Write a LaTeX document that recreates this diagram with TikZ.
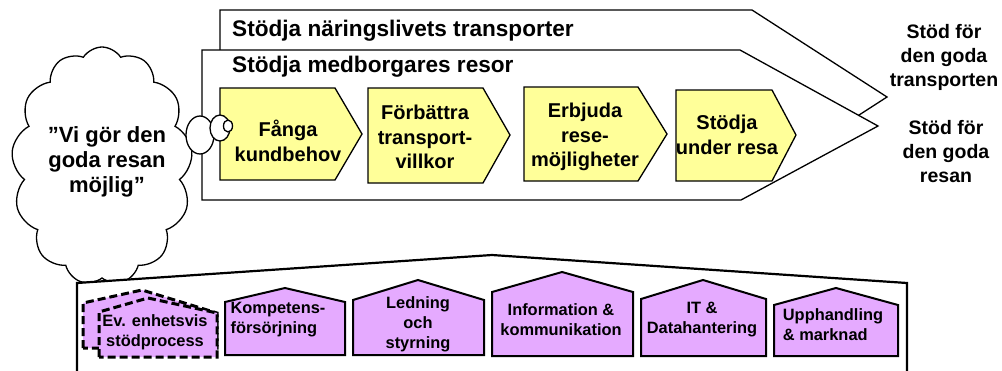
\documentclass[tikz,border=0pt]{standalone}
\usepackage{fontspec}
\setmainfont{Liberation Sans}
\usetikzlibrary{shapes.symbols}
\definecolor{ylw}{RGB}{255,255,153}
\definecolor{vio}{RGB}{229,170,255}
\tikzset{
  chev/.style={draw=black, fill=white, line width=1.3pt, line join=miter},
  ybox/.style={draw=black, fill=ylw, line width=1.3pt},
  pbox/.style={draw=black, fill=vio, line width=2pt},
  dbox/.style={draw=black, fill=vio, line width=3pt, dash pattern=on 8pt off 4pt},
  ytxt/.style={font=\bfseries\fontsize{20}{24.5}\selectfont, align=center, inner sep=0pt},
  ptxt/.style={font=\bfseries\fontsize{16.4}{20}\selectfont, align=center, inner sep=0pt},
  ttl/.style={font=\bfseries\fontsize{22.6}{26}\selectfont, inner sep=0pt, anchor=base west},
  bub/.style={draw=black, fill=white, line width=1.3pt}
}
\begin{document}
\begin{tikzpicture}[x=1pt,y=-1pt]
\useasboundingbox (0,0) rectangle (1002,370);
% cloud
\node[cloud, cloud puffs=13, cloud puff arc=115, cloud ignores aspect, minimum width=181pt, minimum height=238pt, draw=black, fill=white, line width=1.3pt] (cloud) at (102,166) {};
\node[font=\bfseries\fontsize{22}{25}\selectfont, align=center, inner sep=0pt] (cloudtxt) at (107,162) {”Vi gör den\\goda resan\\möjlig”};
% chevrons
\draw[chev] (220,10) -- (752,10) -- (887,97) -- (752,184) -- (220,184) -- cycle;
\draw[chev] (202,50) -- (740,50) -- (878,126) -- (741,200) -- (202,200) -- cycle;
\node[ttl] (t1) at (232,36) {Stödja näringslivets transporter};
\node[ttl] (t2) at (232,72) {Stödja medborgares resor};
% yellow process boxes
\draw[ybox] (220,88) -- (335,88) -- (362,134) -- (335,180) -- (220,180) -- cycle;
\draw[ybox] (368,88) -- (483,88) -- (510,135) -- (483,183) -- (368,183) -- cycle;
\draw[ybox] (524,87) -- (638,87) -- (667,134) -- (638,181) -- (524,181) -- cycle;
\draw[ybox] (676,90) -- (772,90) -- (796,135) -- (772,181) -- (676,181) -- cycle;
\node[ytxt] (y1) at (288,141) {Fånga\\kundbehov};
\node[ytxt] (y2) at (425,137) {Förbättra\\transport-\\villkor};
\node[ytxt] (y3) at (585,137) {Erbjuda\\rese-\\möjligheter};
\node[ytxt] (y4) at (727,135) {Stödja\\under resa};
% thought bubbles
\draw[bub] (200,135) ellipse [x radius=14, y radius=19];
\draw[bub] (220,128) ellipse [x radius=10, y radius=13];
\draw[bub] (228,126) ellipse [x radius=4.5, y radius=6];
% right labels
\node[font=\bfseries\fontsize{19.5}{24}\selectfont, align=center, inner sep=0pt] (r1) at (944,57) {Stöd för\\den goda\\transporten};
\node[font=\bfseries\fontsize{19.5}{24}\selectfont, align=center, inner sep=0pt] (r2) at (946,152) {Stöd för\\den goda\\resan};
% support panel
\draw[line width=2.2pt, fill=white] (77,372) -- (77,283) -- (492,255) -- (907,283) -- (907,372);
% purple support boxes
\draw[dbox] (83,348) -- (83,303) -- (142,290) -- (217,313) -- (217,348) -- cycle;
\draw[dbox] (99,357) -- (99,312) -- (148,298) -- (217,313) -- (217,357) -- cycle;
\draw[pbox] (225,355) -- (225,302) -- (285,288) -- (345,302) -- (345,355) -- cycle;
\draw[pbox] (353,355) -- (353,300) -- (418,280) -- (484,300) -- (484,355) -- cycle;
\draw[pbox] (492,356) -- (492,292) -- (562,272) -- (633,292) -- (633,356) -- cycle;
\draw[pbox] (641,356) -- (641,299) -- (703,280) -- (766,299) -- (766,356) -- cycle;
\draw[pbox] (774,356) -- (774,305) -- (836,288) -- (898,305) -- (898,356) -- cycle;
\node[ptxt] (p0) at (155,332) {Ev. enhetsvis\\stödprocess};
\node[ptxt, align=left] (p1) at (278,320) {Kompetens-\\försörjning};
\node[ptxt] (p2) at (418,324) {Ledning\\och\\styrning};
\node[ptxt] (p3) at (561,320) {Information \&\\kommunikation};
\node[ptxt] (p4) at (702,320) {IT \&\\Datahantering};
\node[ptxt, align=left] (p5) at (833,325) {Upphandling\\\& marknad};
\end{tikzpicture}
\end{document}
